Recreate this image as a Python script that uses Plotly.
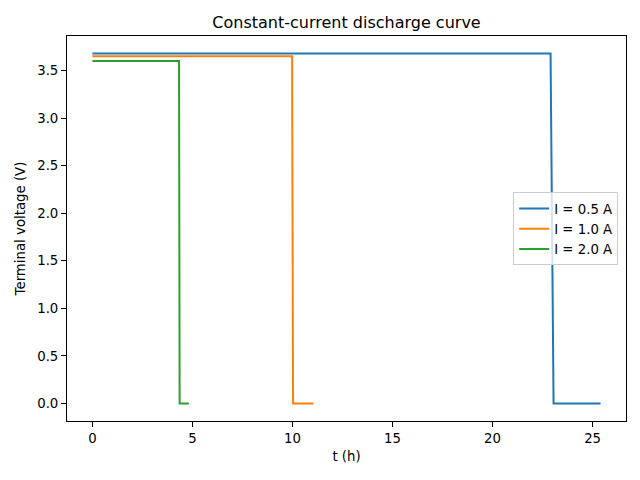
import plotly.graph_objects as go

labels = ["I = 0.5 A", "I = 1.0 A", "I = 2.0 A"]
colors = ["#1f77b4", "#ff7f0e", "#2ca02c"]
t_series = [
    [0.0, 22.9, 23.05, 25.4],
    [0.0, 9.98, 10.03, 11.05],
    [0.0, 4.33, 4.36, 4.82],
]
v_series = [
    [3.68, 3.68, 0.0, 0.0],
    [3.65, 3.65, 0.0, 0.0],
    [3.60, 3.60, 0.0, 0.0],
]
xticks = [0, 5, 10, 15, 20, 25]
yticks = [0.0, 0.5, 1.0, 1.5, 2.0, 2.5, 3.0, 3.5]

fig = go.Figure()
for lab, col, t, v in zip(labels, colors, t_series, v_series):
    fig.add_trace(go.Scatter(x=t, y=v, mode="lines", name=lab,
                             line=dict(color=col, width=2)))

font = "DejaVu Sans"
axis_common = dict(showline=True, linecolor="black", linewidth=1, mirror=True,
                   ticks="outside", ticklen=5, tickwidth=1, tickcolor="black",
                   showgrid=False, zeroline=False, automargin=False,
                   tickfont=dict(family=font, size=13.3, color="black"))
fig.update_layout(
    width=640, height=480,
    margin=dict(l=59, r=22, t=28, b=67),
    paper_bgcolor="white", plot_bgcolor="white",
    title=dict(text="Constant-current discharge curve", x=0.5, xanchor="center",
               xref="paper",
               y=1 - 14 / 480, yanchor="middle",
               font=dict(family=font, size=16, color="black")),
    xaxis=dict(range=[-1.27, 26.67], tickvals=xticks,
               ticktext=[str(x) for x in xticks],
               title=dict(text="t (h)", font=dict(family=font, size=13.3, color="black"), standoff=6),
               **axis_common),
    yaxis=dict(range=[-0.184, 3.864], tickvals=yticks,
               ticktext=[f"{y:.1f}" for y in yticks],
               title=dict(text="Terminal voltage (V)", font=dict(family=font, size=13.3, color="black"), standoff=8),
               **axis_common),
    legend=dict(x=0.986, xanchor="right", y=0.499, yanchor="middle",
                bgcolor="rgba(255,255,255,0.8)", bordercolor="#cccccc", borderwidth=1,
                font=dict(family=font, size=13.3, color="black"),
                tracegroupgap=0, itemwidth=30),
    showlegend=True,
)
fig.write_html("out.html")
